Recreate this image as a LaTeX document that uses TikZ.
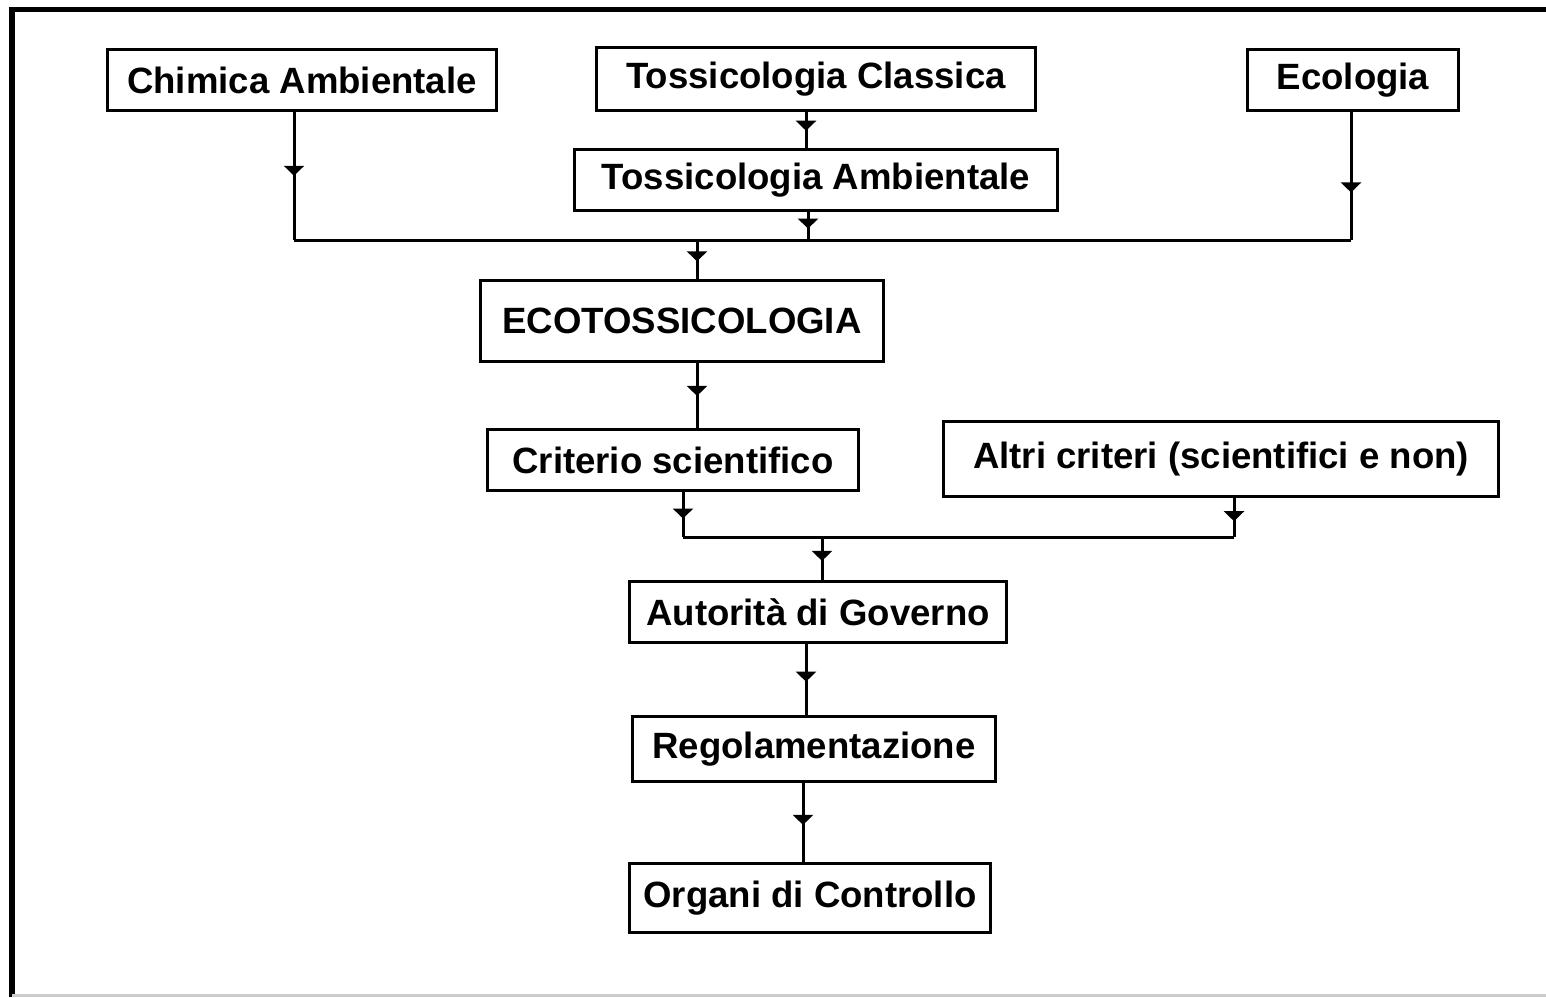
\documentclass[tikz,border=0pt]{standalone}
\usepackage{fontspec}
\setmainfont{Liberation Sans}
\usetikzlibrary{arrows.meta,decorations.markings}
\begin{document}
\begin{tikzpicture}[x=0.01cm,y=-0.01cm,
  blk/.style={draw,line width=0.03cm,inner sep=0pt,align=center,
    font=\fontsize{10.4}{12}\selectfont\bfseries},
  link/.style={line width=0.03cm},
  midarrow/.style={postaction={decorate},decoration={markings,
    mark=at position #1 with {\arrow{Triangle[width=0.2cm,length=0.1cm]}}}},
  midarrow/.default=0.55]
\useasboundingbox (0,0) rectangle (1546,997);
\draw[line width=0.05cm] (12,997) -- (12,10) -- (1546,10);
\draw[gray!40,line width=0.03cm] (12,995) -- (1546,995);
\node[blk,minimum width=3.89cm,minimum height=0.60cm] (chim) at (302,80) {Chimica Ambientale};
\node[blk,minimum width=4.39cm,minimum height=0.62cm] (tcl) at (816,79) {Tossicologia Classica};
\node[blk,minimum width=2.11cm,minimum height=0.60cm] (eco) at (1353,80) {Ecologia};
\node[blk,minimum width=4.83cm,minimum height=0.60cm] (tam) at (816,180) {Tossicologia Ambientale};
\node[blk,minimum width=4.03cm,minimum height=0.80cm] (ecotox) at (682,321) {ECOTOSSICOLOGIA};
\node[blk,minimum width=3.71cm,minimum height=0.61cm] (crit) at (673,460) {Criterio scientifico};
\node[blk,minimum width=5.55cm,minimum height=0.74cm] (altri) at (1221,459) {Altri criteri (scientifici e non)};
\node[blk,minimum width=3.76cm,minimum height=0.60cm] (aut) at (818,612) {Autorità di Governo};
\node[blk,minimum width=3.62cm,minimum height=0.64cm] (reg) at (814,749) {Regolamentazione};
\node[blk,minimum width=3.60cm,minimum height=0.68cm] (org) at (810,898) {Organi di Controllo};
\coordinate (busl) at (294,240);
\coordinate (busr) at (1351,240);
\coordinate (bustam) at (808,240);
\coordinate (busin) at (697,240);
\coordinate (xtcl) at (806,0);
\coordinate (buscr) at (683,537);
\coordinate (busal) at (1234,537);
\coordinate (busaut) at (822,537);
\coordinate (xaut) at (806,0);
\coordinate (xreg) at (803,0);
\draw[link,midarrow=0.5] (busl |- chim.south) -- (busl);
\draw[link,midarrow=0.63] (busr |- eco.south) -- (busr);
\draw[link] (busl) -- (busr);
\draw[link,midarrow=0.52] (xtcl |- tcl.south) -- (xtcl |- tam.north);
\draw[link,midarrow=0.6] (bustam |- tam.south) -- (bustam);
\draw[link,midarrow=0.54] (busin) -- (busin |- ecotox.north);
\draw[link,midarrow=0.51] (busin |- ecotox.south) -- (busin |- crit.north);
\draw[link,midarrow=0.59] (buscr |- crit.south) -- (buscr);
\draw[link,midarrow=0.6] (busal |- altri.south) -- (busal);
\draw[link] (buscr) -- (busal);
\draw[link,midarrow=0.55] (busaut) -- (busaut |- aut.north);
\draw[link,midarrow=0.53] (xaut |- aut.south) -- (xaut |- reg.north);
\draw[link,midarrow=0.53] (xreg |- reg.south) -- (xreg |- org.north);
\end{tikzpicture}
\end{document}
